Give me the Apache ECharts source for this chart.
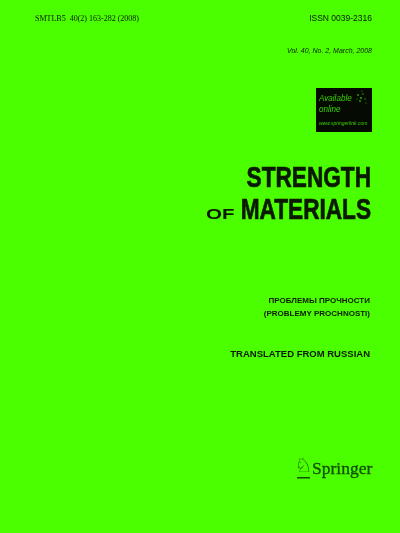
<!DOCTYPE html>
<html><head><meta charset="utf-8">
<script src="https://cdn.jsdelivr.net/npm/echarts@6/dist/echarts.min.js"></script>
<style>html,body{margin:0;padding:0;background:#4cff00}#c{width:400px;height:533px}</style>
</head><body><div id="c"></div>
<script>
const headerLeft = "SMTLB5  40(2) 163-282 (2008)";
const headerRight = "ISSN 0039-2316";
const issueLine = "Vol. 40, No. 2, March, 2008";
const badgeLines = ["Available", "online", "www.springerlink.com"];
const titleLines = ["STRENGTH", "MATERIALS"];
const titleSmall = "OF";
const russianLines = ["ПРОБЛЕМЫ ПРОЧНОСТИ", "(PROBLEMY PROCHNOSTI)"];
const translated = "TRANSLATED FROM RUSSIAN";
const publisher = "Springer";

const chart = echarts.init(document.getElementById('c'), null, {renderer:'canvas'});
const sans = "Liberation Sans, Arial, sans-serif";
const serif = "Liberation Serif, Times New Roman, serif";
function txt(x, y, s, o) {
  return Object.assign({type:'text', x:x, y:y, style:Object.assign({text:s, fill:'#0a1a00', textVerticalAlign:'middle', fontFamily:sans}, o.style||{})}, o.el||{});
}
const sparkle = [[358,95,0.9],[361,98,1.1],[363,94,0.8],[360,101,0.9],[365,99,0.7],[357,99,0.6],[362,91,0.6],[366,103,0.6]];
chart.setOption({
  backgroundColor:'#4cff00',
  graphic:[
    txt(35, 19, headerLeft, {style:{fontFamily:serif, fontSize:8, textAlign:'left'}}),
    txt(372, 19, headerRight, {style:{fontSize:8.5, textAlign:'right'}}),
    txt(372, 51, issueLine, {style:{fontSize:7, fontStyle:'italic', textAlign:'right'}}),
    {type:'rect', shape:{x:316, y:88, width:56, height:44}, style:{fill:'#050a02'}},
    ...sparkle.map(p => ({type:'circle', shape:{cx:p[0], cy:p[1], r:p[2]}, style:{fill:'#2fa800'}})),
    txt(319, 98.5, badgeLines[0], {style:{fontSize:9, fontStyle:'italic', fill:'#38d400', textAlign:'left'}, el:{scaleX:0.9}}),
    txt(319, 109, badgeLines[1], {style:{fontSize:9, fontStyle:'italic', fill:'#38d400', textAlign:'left'}, el:{scaleX:0.9}}),
    txt(319, 123.5, badgeLines[2], {style:{fontSize:5, fontStyle:'italic', fill:'#38d400', textAlign:'left'}}),
    txt(371, 178.5, titleLines[0], {style:{fontSize:29, fontWeight:'bold', textAlign:'right', stroke:'#0a1a00', lineWidth:0.7}, el:{scaleX:0.78}}),
    txt(371, 210.5, titleLines[1], {style:{fontSize:29, fontWeight:'bold', textAlign:'right', stroke:'#0a1a00', lineWidth:0.7}, el:{scaleX:0.78}}),
    txt(206, 214.5, titleSmall, {style:{fontSize:15, fontWeight:'bold', textAlign:'left'}, el:{scaleX:1.37}}),
    txt(370, 301, russianLines[0], {style:{fontSize:8, fontWeight:'bold', textAlign:'right'}}),
    txt(370, 314, russianLines[1], {style:{fontSize:8, fontWeight:'bold', textAlign:'right'}}),
    txt(370, 354, translated, {style:{fontSize:9.5, fontWeight:'bold', textAlign:'right'}}),
    txt(303.5, 467, '\u2658', {style:{fontFamily:'DejaVu Sans', fontSize:20, fontWeight:'bold', fill:'#0f4d00', textAlign:'center'}}),
    {type:'rect', shape:{x:297, y:477, width:13, height:1.5}, style:{fill:'#0f4d00'}},
    txt(312, 469, publisher, {style:{fontFamily:serif, fontSize:17.5, fill:'#0f4d00', textAlign:'left', stroke:'#0f4d00', lineWidth:0.3}})
  ]
});
</script></body></html>
